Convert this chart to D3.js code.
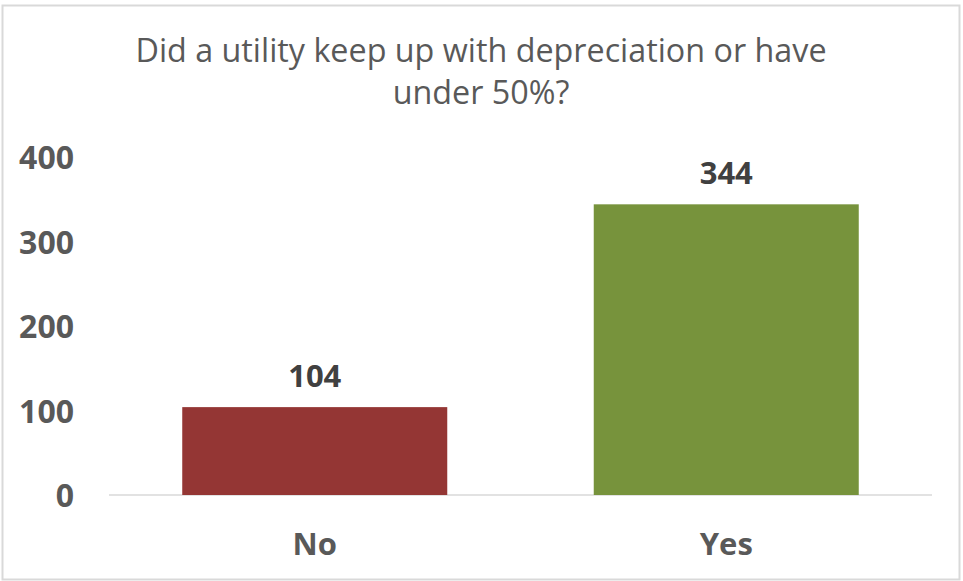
<!DOCTYPE html>
<html>
<head>
<meta charset="utf-8">
<script src="https://cdn.jsdelivr.net/npm/d3@7"></script>
<style>
  body { margin: 0; background: #fff; }
  text { font-family: "Open Sans", "Noto Sans", sans-serif; }
</style>
</head>
<body>
<script>
// chart data
const categories = ['No', 'Yes']
const values = [104, 344]
const barColors = ['#943634', '#77933c']
const yTicks = [0, 100, 200, 300, 400]
const titleLines = ['Did a utility keep up with depreciation or have', 'under 50%?']

const w = 963, h = 581
const plot = { left: 109, right: 932, top: 157, bottom: 495 }

const svg = d3.select('body')
  .append('svg')
  .attr('width', w)
  .attr('height', h)

// outer frame
svg.append('rect')
  .attr('x', 2.5).attr('y', 5.5)
  .attr('width', 957).attr('height', 574)
  .attr('fill', '#fff')
  .attr('stroke', '#d9d9d9')
  .attr('stroke-width', 2)

// title
svg.append('g')
  .selectAll('text')
  .data(titleLines)
  .enter()
  .append('text')
  .attr('x', 481)
  .attr('y', (d, i) => 62 + i * 42)
  .attr('text-anchor', 'middle')
  .attr('fill', '#595959')
  .style('font-size', '32.3px')
  .text(d => d)

const x = d3.scaleBand()
  .domain(categories)
  .range([plot.left, plot.right])
  .paddingInner(0.356)
  .paddingOuter(0.178)

const y = d3.scaleLinear()
  .domain([0, 400])
  .range([plot.bottom, plot.top])

// y axis labels, no line
const yAxis = svg.append('g')
  .attr('transform', `translate(${plot.left - 35},0)`)
  .call(d3.axisLeft(y).tickValues(yTicks).tickSize(0).tickPadding(0))
yAxis.select('.domain').remove()
yAxis.selectAll('text')
  .attr('fill', '#595959')
  .attr('dy', '0.36em')
  .style('font-size', '32px')
  .style('font-weight', 'bold')

// baseline
svg.append('line')
  .attr('x1', plot.left).attr('x2', plot.right)
  .attr('y1', y(0)).attr('y2', y(0))
  .attr('stroke', '#d9d9d9')
  .attr('stroke-width', 1.5)

// bars
svg.selectAll('rect.bar')
  .data(values)
  .enter()
  .append('rect')
  .attr('class', 'bar')
  .attr('x', (d, i) => x(categories[i]))
  .attr('y', d => y(d))
  .attr('width', x.bandwidth())
  .attr('height', d => y(0) - y(d))
  .attr('fill', (d, i) => barColors[i])

// value labels
svg.selectAll('text.val')
  .data(values)
  .enter()
  .append('text')
  .attr('class', 'val')
  .attr('x', (d, i) => x(categories[i]) + x.bandwidth() / 2)
  .attr('y', d => y(d) - 20)
  .attr('text-anchor', 'middle')
  .attr('fill', '#404040')
  .style('font-size', '31px')
  .style('font-weight', 'bold')
  .text(d => d)

// x axis labels
const xAxis = svg.append('g')
  .attr('transform', `translate(0,${plot.bottom})`)
  .call(d3.axisBottom(x).tickSize(0).tickPadding(38))
xAxis.select('.domain').remove()
xAxis.selectAll('text')
  .attr('fill', '#595959')
  .style('font-size', '31px')
  .style('font-weight', 'bold')
</script>
</body>
</html>
